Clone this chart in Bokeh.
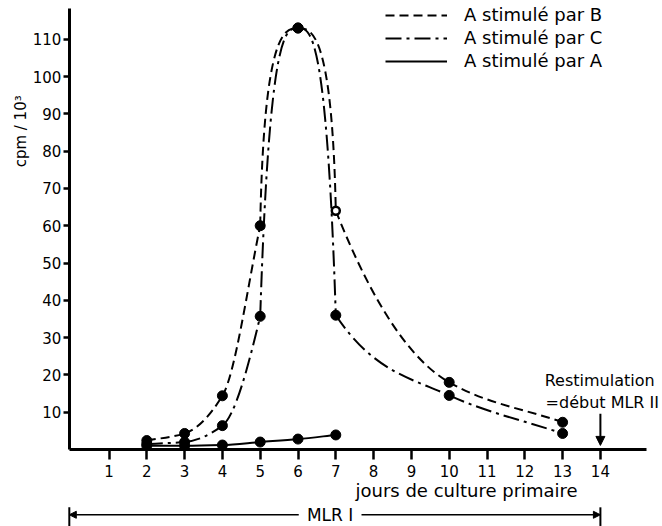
from bokeh.plotting import figure
from bokeh.models import (FixedTicker, Range1d, Label, Arrow, NormalHead,
                          Legend, LegendItem, ColumnDataSource)
from bokeh.embed import file_html
from bokeh.resources import INLINE

# ---------------- data ----------------
days_BC = [2, 3, 4, 5, 6, 7, 10, 13]
cpm_B = [2.4, 4.3, 14.4, 60.0, 113.0, 64.0, 18.0, 7.3]
cpm_C = [1.5, 2.0, 6.4, 35.7, 113.0, 36.0, 14.5, 4.3]
days_A = [2, 3, 4, 5, 6, 7]
cpm_A = [1.0, 1.0, 1.2, 2.0, 2.8, 3.9]
hollow_B = [False, False, False, False, False, True, False, False]

x_ticks = list(range(1, 15))
y_ticks = list(range(10, 111, 10))
legend_labels = ["A stimulé par B", "A stimulé par C", "A stimulé par A"]
y_title = "cpm / 10³"
x_title = "jours de culture primaire"
mlr1_text = "MLR I"
restim_text = ["Restimulation", "=début MLR II"]
restim_day = 14
mlr_end_day = 14

# ---------------- layout (frame = whole canvas) ----------------
W, H = 662, 526
SX, SY = 37.8, 3.73            # pixels per day / per 1000 cpm
X0 = -70.7 / SX
X1 = X0 + W / SX
Y1 = 449 / SY
Y0 = Y1 - H / SY
AX_X0, AX_X1 = -0.05, 15.22    # extent of the drawn x axis
AX_Y1 = 118.2                  # top of the drawn y axis
FONT = "DejaVu Sans"

p = figure(width=W, height=H, output_backend="svg", toolbar_location=None,
           x_range=Range1d(X0, X1), y_range=Range1d(Y0, Y1),
           min_border_left=0, min_border_right=0, min_border_top=0,
           min_border_bottom=0)
p.outline_line_color = None
p.grid.visible = False
p.background_fill_color = "white"
p.border_fill_color = "white"

p.xaxis.fixed_location = 0
p.yaxis.fixed_location = AX_X0
p.xaxis.bounds = (AX_X0, AX_X1)
p.yaxis.bounds = (0, AX_Y1)
for ax, ticks, out in ((p.xaxis[0], x_ticks, 10), (p.yaxis[0], y_ticks, 6)):
    ax.ticker = FixedTicker(ticks=ticks)
    ax.axis_line_width = 3
    ax.axis_line_color = "black"
    ax.major_tick_line_width = 2.5
    ax.major_tick_line_color = "black"
    ax.major_tick_out = out
    ax.major_tick_in = 0
    ax.minor_tick_line_color = None
    ax.major_label_text_font = FONT
    ax.major_label_text_font_size = "15px"
    ax.major_label_text_color = "black"
p.xaxis.major_label_standoff = 5
p.yaxis.major_label_standoff = 2


def smooth(xs, ys, steep_handle):
    """Hand-drawn-like Bezier segments between consecutive data points."""
    n = len(xs)
    h = [xs[i + 1] - xs[i] for i in range(n - 1)]
    s = [(ys[i + 1] - ys[i]) / h[i] for i in range(n - 1)]
    d = [0.0] * n
    peak = [False] * n
    d[0], d[-1] = s[0], s[-1]
    for i in range(1, n - 1):
        prod = s[i - 1] * s[i]
        if prod < 0:
            peak[i] = True
        elif prod > 0:
            w1, w2 = 2 * h[i] + h[i - 1], h[i] + 2 * h[i - 1]
            d[i] = (w1 + w2) / (w1 / s[i - 1] + w2 / s[i])
    c = dict(x0=[], y0=[], x1=[], y1=[], cx0=[], cy0=[], cx1=[], cy1=[])
    for k in range(n - 1):
        a, b, ga, gb = d[k], d[k + 1], 1.0, 1.0
        if peak[k + 1]:
            a, ga = 3 * s[k], steep_handle
        if peak[k]:
            b, gb = 3 * s[k], steep_handle
        c["x0"].append(xs[k]); c["y0"].append(ys[k])
        c["x1"].append(xs[k + 1]); c["y1"].append(ys[k + 1])
        c["cx0"].append(xs[k] + h[k] / 3 * ga)
        c["cy0"].append(ys[k] + a * h[k] / 3)
        c["cx1"].append(xs[k + 1] - h[k] / 3 * gb)
        c["cy1"].append(ys[k + 1] - b * h[k] / 3)
    return ColumnDataSource(c)


styles = [("9 5", 0.3, days_BC, cpm_B), ("16 5 3 5", 0.75, days_BC, cpm_C),
          ("solid", 1.0, days_A, cpm_A)]
renderers = []
for dash, steep, xs, ys in styles:
    r = p.bezier(x0="x0", y0="y0", x1="x1", y1="y1", cx0="cx0", cy0="cy0",
                 cx1="cx1", cy1="cy1", source=smooth(xs, ys, steep),
                 line_color="black", line_width=2, line_dash=dash)
    renderers.append(r)

# markers
fx = [x for x, hh in zip(days_BC, hollow_B) if not hh]
fy = [y for y, hh in zip(cpm_B, hollow_B) if not hh]
hx = [x for x, hh in zip(days_BC, hollow_B) if hh]
hy = [y for y, hh in zip(cpm_B, hollow_B) if hh]
p.scatter(fx, fy, size=10, fill_color="black", line_color="black")
p.scatter(hx, hy, size=8, fill_color="white", line_color="black", line_width=2.5)
p.scatter(days_BC, cpm_C, size=10, fill_color="black", line_color="black")
p.scatter(days_A, cpm_A, size=10, fill_color="black", line_color="black")

legend = Legend(items=[LegendItem(label=l, renderers=[r]) for l, r in zip(legend_labels, renderers)],
                location=(385, H - 71), padding=0, margin=0, spacing=2,
                glyph_width=62, glyph_height=20, label_height=20, label_standoff=17,
                label_text_font=FONT, label_text_font_size="18px",
                label_text_color="black",
                border_line_color=None, background_fill_alpha=0)
p.add_layout(legend)

# y title
p.add_layout(Label(x=-1.34, y=85.3, text=y_title, angle=90, angle_units="deg",
                   text_align="center", text_baseline="middle", text_color="black",
                   text_font=FONT, text_font_size="15px"))
# x title
p.add_layout(Label(x=10.46, y=-11.0, text=x_title, text_align="center",
                   text_baseline="middle", text_color="black",
                   text_font=FONT, text_font_size="18px"))

# MLR I span
mlr_y = -17.5
mlr_mid = 6.85
gap = 0.83
p.add_layout(Label(x=mlr_mid, y=mlr_y, text=mlr1_text, text_align="center",
                   text_baseline="middle", text_color="black",
                   text_font=FONT, text_font_size="17px"))
p.add_layout(Arrow(x_start=mlr_mid - gap, y_start=mlr_y, x_end=AX_X0, y_end=mlr_y,
                   line_width=1.5, end=NormalHead(size=7, fill_color="black", line_color="black")))
p.add_layout(Arrow(x_start=mlr_mid + gap, y_start=mlr_y, x_end=mlr_end_day, y_end=mlr_y,
                   line_width=1.5, end=NormalHead(size=7, fill_color="black", line_color="black")))
for xb in (AX_X0, mlr_end_day):
    p.add_layout(Arrow(x_start=xb, y_start=mlr_y + 2.0, x_end=xb, y_end=mlr_y - 3.0,
                       line_width=2, start=None, end=None))

# restimulation
p.add_layout(Label(x=restim_day - 0.02, y=18.5, text=restim_text[0], text_align="center",
                   text_baseline="middle", text_color="black",
                   text_font=FONT, text_font_size="16px"))
p.add_layout(Label(x=restim_day + 0.05, y=12.6, text=restim_text[1], text_align="center",
                   text_baseline="middle", text_color="black",
                   text_font=FONT, text_font_size="16px"))
p.add_layout(Arrow(x_start=restim_day, y_start=9.6, x_end=restim_day, y_end=1.1,
                   line_width=2, end=NormalHead(size=9, fill_color="black", line_color="black")))

open("out.html", "w").write(file_html(p, INLINE))
